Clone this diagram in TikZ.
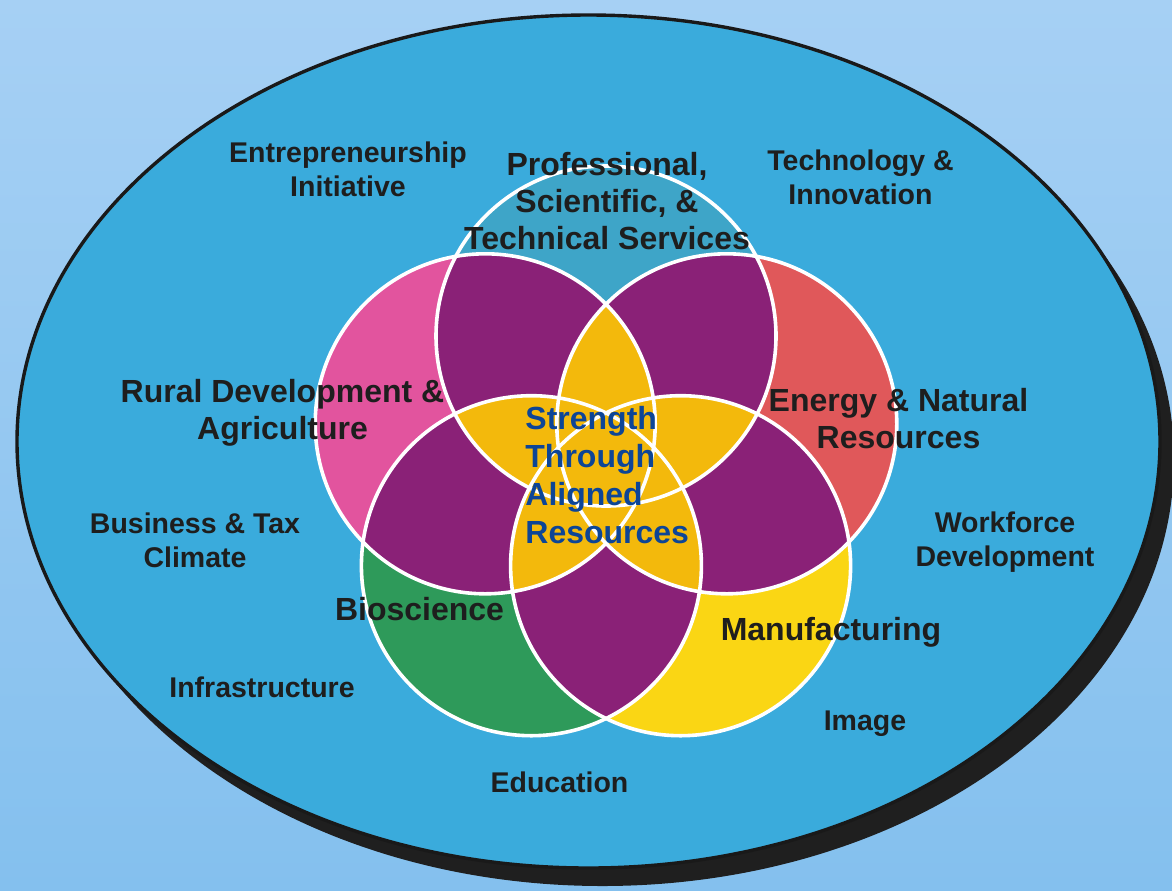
\documentclass[tikz,border=0pt]{standalone}
\usepackage{fontspec}
\setmainfont{Liberation Sans}
\definecolor{skytop}{RGB}{166,208,244}
\definecolor{skybottom}{RGB}{132,192,238}
\definecolor{ovalblue}{RGB}{58,171,220}
\definecolor{topteal}{RGB}{62,165,200}
\definecolor{petalpink}{RGB}{226,84,158}
\definecolor{petalred}{RGB}{224,88,90}
\definecolor{petalgreen}{RGB}{46,154,90}
\definecolor{petalyellow}{RGB}{250,214,20}
\definecolor{lenspurple}{RGB}{138,33,119}
\definecolor{coregold}{RGB}{243,185,12}
\definecolor{labelgray}{RGB}{30,30,30}
\definecolor{coreblue}{RGB}{13,69,150}
\begin{document}
\begin{tikzpicture}[x=0.5pt,y=-0.5pt,
  smalllabel/.style={font=\fontsize{14.25}{17}\selectfont\bfseries, text=labelgray, align=center, inner sep=0pt, anchor=base},
  biglabel/.style={font=\fontsize{16}{18.5}\selectfont\bfseries, text=labelgray, align=center, inner sep=0pt, anchor=base},
  corelabel/.style={font=\fontsize{16}{19}\selectfont\bfseries, text=coreblue, align=left, inner sep=0pt, anchor=base west},
  ring/.style={draw=white, line width=1.8pt}]
\def\R{170}
% page and backdrop
\useasboundingbox (0,0) rectangle (1172,890);
\shade[top color=skytop, bottom color=skybottom] (0,0) rectangle (1172,890);
% oval with its drop shadow
\fill[black!88] (602.5,459.5) ellipse [x radius=571.5, y radius=426.5];
\filldraw[fill=ovalblue, draw=black!90, line width=1.7pt] (588.5,441.5) ellipse [x radius=571.5, y radius=426.5];
% centres of the five circles
\coordinate (ctop)    at (606,336);
\coordinate (cpink)   at (485.2,423.8);
\coordinate (cgreen)  at (531.4,565.7);
\coordinate (cyellow) at (680.6,565.7);
\coordinate (cred)    at (726.8,423.8);
% single-circle fills
\fill[topteal]     (ctop)    circle [radius=\R];
\fill[petalpink]   (cpink)   circle [radius=\R];
\fill[petalgreen]  (cgreen)  circle [radius=\R];
\fill[petalyellow] (cyellow) circle [radius=\R];
\fill[petalred]    (cred)    circle [radius=\R];
% overlaps of two circles
\foreach \a/\b in {ctop/cpink, ctop/cgreen, ctop/cyellow, ctop/cred,
                   cpink/cgreen, cpink/cyellow, cpink/cred,
                   cgreen/cyellow, cgreen/cred, cyellow/cred}{
  \begin{scope}
    \clip (\a) circle [radius=\R];
    \fill[lenspurple] (\b) circle [radius=\R];
  \end{scope}
}
% overlaps of three or more circles
\foreach \a/\b/\c in {ctop/cpink/cgreen, ctop/cpink/cyellow, ctop/cpink/cred,
                      ctop/cgreen/cyellow, ctop/cgreen/cred, ctop/cyellow/cred,
                      cpink/cgreen/cyellow, cpink/cgreen/cred, cpink/cyellow/cred,
                      cgreen/cyellow/cred}{
  \begin{scope}
    \clip (\a) circle [radius=\R];
    \clip (\b) circle [radius=\R];
    \fill[coregold] (\c) circle [radius=\R];
  \end{scope}
}
% white rings
\foreach \c in {ctop, cpink, cgreen, cyellow, cred}{
  \draw[ring] (\c) circle [radius=\R];
}
% circle labels (multi-line nodes sit on their last baseline)
\node[biglabel] (pst) at (607,249) {Professional,\\Scientific, \&\\Technical Services};
\node[biglabel] (rda) at (282.5,439) {Rural Development \&\\Agriculture};
\node[biglabel] (enr) at (898.5,448) {Energy \& Natural\\Resources};
\node[biglabel] (bio) at (419.5,620) {Bioscience};
\node[biglabel] (man) at (831,640) {Manufacturing};
% centre
\node[corelabel] (star) at (525,543) {Strength\\Through\\Aligned\\Resources};
% surrounding labels
\node[smalllabel] (ent) at (348,196) {Entrepreneurship\\Initiative};
\node[smalllabel] (tec) at (860.5,204) {Technology \&\\Innovation};
\node[smalllabel] (btc) at (195,567) {Business \& Tax\\Climate};
\node[smalllabel] (wfd) at (1005,566) {Workforce\\Development};
\node[smalllabel] (inf) at (262,697) {Infrastructure};
\node[smalllabel] (img) at (865,730) {Image};
\node[smalllabel] (edu) at (559.5,792) {Education};
\end{tikzpicture}
\end{document}
